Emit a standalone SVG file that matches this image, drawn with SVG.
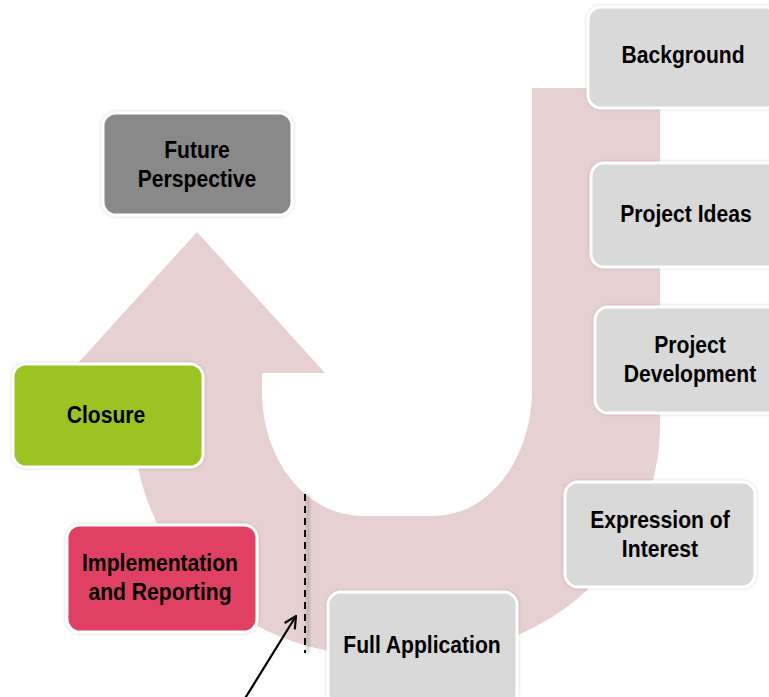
<svg xmlns="http://www.w3.org/2000/svg" width="769" height="697" viewBox="0 0 769 697">
<style>
.box{stroke:#ffffff;stroke-width:3;filter:url(#sh)}
.gray{fill:#d9d9d9}
.lbl{font-family:"Liberation Sans",Arial,sans-serif;font-weight:bold;font-size:24px;fill:#000;text-anchor:middle}
</style>
<defs>
<filter id="sh" x="-10%" y="-10%" width="120%" height="120%">
<feDropShadow dx="0" dy="0" stdDeviation="1.5" flood-color="#000" flood-opacity="0.2"/>
</filter>
<filter id="blur" filterUnits="userSpaceOnUse" x="290" y="480" width="40" height="190">
<feGaussianBlur stdDeviation="1.5"/>
</filter>
<marker id="open" viewBox="0 0 14 14" refX="13" refY="7" markerWidth="14" markerHeight="14" markerUnits="userSpaceOnUse" orient="auto">
<path d="M1,1 L13,7 L1,13" fill="none" stroke="#000" stroke-width="2.2"/>
</marker>
</defs>
<rect width="769" height="697" fill="#ffffff"/>
<g id="u-arrow">
<path d="M532,88 L660,88 L660,425 A240,230 0 0 1 420,655 L374,655 A240,230 0 0 1 134,425 L134,373 L69,373 L197,232 L325,373 L262,373 L262,392 A100,124 0 0 0 362,516 L434,516 A98,126 0 0 0 532,390 Z" fill="#e7d0d1"/>
</g>
<g id="connectors">
<rect x="306" y="494" width="4" height="159" fill="#000" opacity="0.15" filter="url(#blur)"/>
<line x1="305" y1="494" x2="305" y2="653" stroke="#000" stroke-width="2" stroke-dasharray="7,5"/>
<line x1="244" y1="700" x2="296" y2="616" stroke="#000" stroke-width="2.2" marker-end="url(#open)"/>
</g>
<g id="node-background">
<rect class="box gray" x="588" y="7" width="190" height="101" rx="13"/>
<text class="lbl" transform="translate(683,63) scale(0.88,1)">Background</text>
</g>
<g id="node-project-ideas">
<rect class="box gray" x="591" y="163" width="190" height="104" rx="13"/>
<text class="lbl" transform="translate(686,222) scale(0.88,1)">Project Ideas</text>
</g>
<g id="node-project-development">
<rect class="box gray" x="595" y="307" width="190" height="106" rx="13"/>
<text class="lbl" transform="translate(690,353) scale(0.88,1)">Project</text>
<text class="lbl" transform="translate(690,382) scale(0.88,1)">Development</text>
</g>
<g id="node-expression-of-interest">
<rect class="box gray" x="565" y="482" width="190" height="105" rx="13"/>
<text class="lbl" transform="translate(660,528) scale(0.88,1)">Expression of</text>
<text class="lbl" transform="translate(660,557) scale(0.88,1)">Interest</text>
</g>
<g id="node-full-application">
<rect class="box gray" x="328" y="592" width="189" height="115" rx="13"/>
<text class="lbl" transform="translate(422,653) scale(0.88,1)">Full Application</text>
</g>
<g id="node-implementation">
<rect class="box" x="67" y="525" width="190" height="107" rx="13" fill="#e04162"/>
<text class="lbl" transform="translate(160,571) scale(0.88,1)">Implementation</text>
<text class="lbl" transform="translate(160,600) scale(0.88,1)">and Reporting</text>
</g>
<g id="node-closure">
<rect class="box" x="13" y="364" width="190" height="103" rx="13" fill="#9bc324"/>
<text class="lbl" transform="translate(106,423) scale(0.88,1)">Closure</text>
</g>
<g id="node-future-perspective">
<rect class="box" x="103" y="113" width="189" height="102" rx="13" fill="#898989"/>
<text class="lbl" transform="translate(197,158) scale(0.88,1)">Future</text>
<text class="lbl" transform="translate(197,187) scale(0.88,1)">Perspective</text>
</g>
</svg>
